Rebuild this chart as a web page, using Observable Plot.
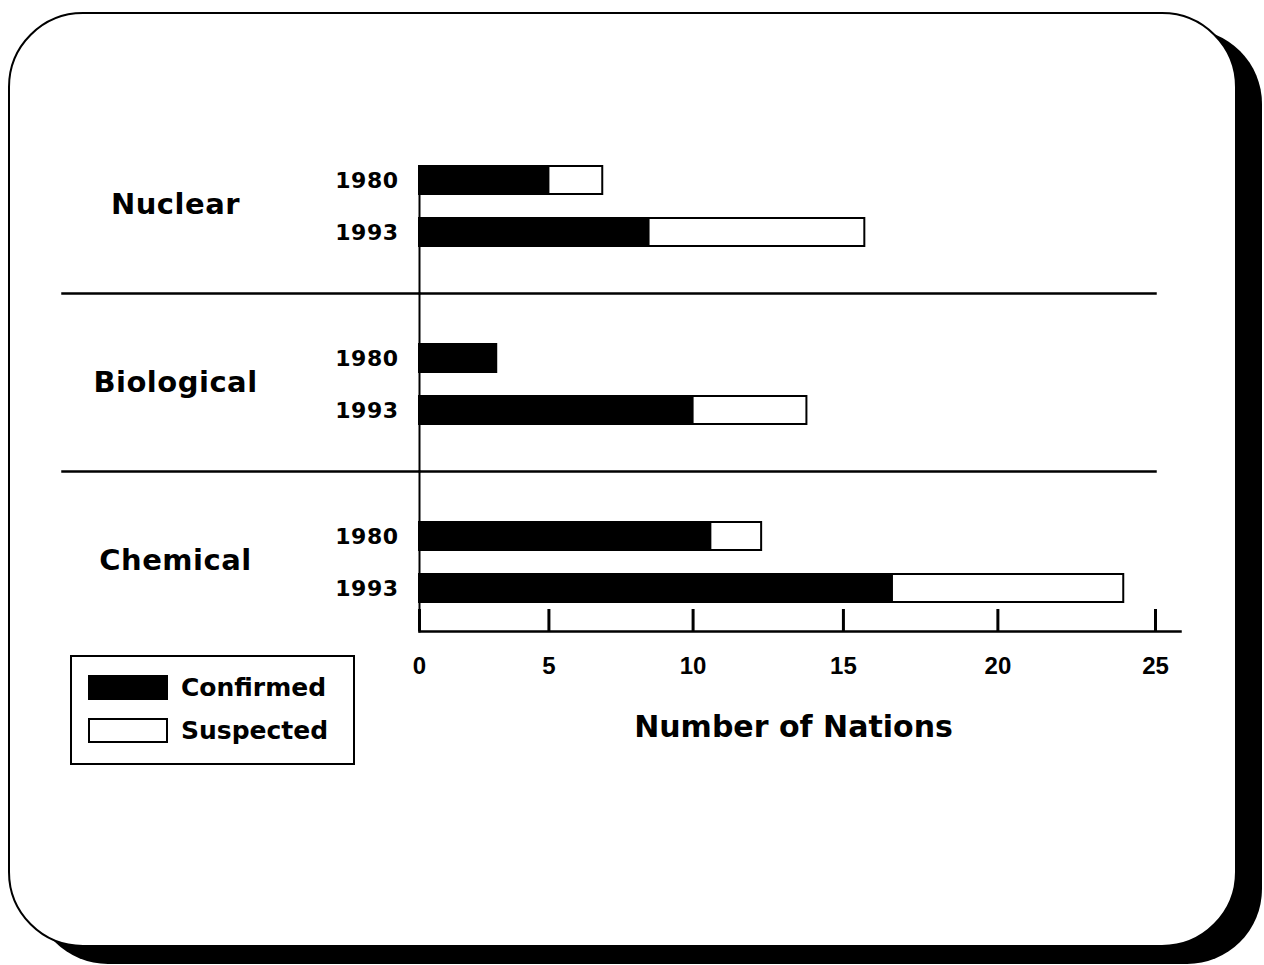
<!DOCTYPE html>
<html>
<head>
<meta charset="utf-8">
<script src="https://cdn.jsdelivr.net/npm/d3@7"></script>
<script src="https://cdn.jsdelivr.net/npm/@observablehq/plot@0.6"></script>
<style>
  html, body { margin: 0; padding: 0; background: #fff; overflow: hidden; }
  #page { position: relative; width: 1264px; height: 965px; }
  #card {
    position: absolute; left: 8px; top: 12px; width: 1229px; height: 935px;
    box-sizing: border-box; border: 2px solid #000; border-radius: 75px;
    background: #fff; box-shadow: 25px 17px 0 0 #000;
  }
  #chart { position: absolute; left: 0; top: 0; }
  .wmd [aria-label="fy-axis tick label"] { letter-spacing: 0.5px; }
  .wmd [aria-label="y-axis tick label"] { letter-spacing: 0.5px; }
  #legend {
    position: absolute; left: 70px; top: 655px; width: 285px; height: 110px;
    box-sizing: border-box; border: 2px solid #000; background: #fff;
    font-family: "DejaVu Sans", sans-serif; font-weight: bold; font-size: 25px;
  }
  .item { position: absolute; left: 16px; height: 25px; display: flex; align-items: center; }
  .sw { width: 80px; height: 25px; box-sizing: border-box; border: 2px solid #000; margin-right: 13px; }
</style>
</head>
<body>
<div id="page">
  <div id="card"></div>
  <div id="chart"></div>
  <div id="legend"></div>
</div>
<script>
// ---- data ----
const categories = ["Nuclear", "Biological", "Chemical"];
const years = ["1980", "1993"];
const types = ["Confirmed", "Suspected"];
const typeColors = ["#000000", "#ffffff"];
// order: Nuclear 1980, Nuclear 1993, Biological 1980, Biological 1993, Chemical 1980, Chemical 1993
const confirmed = [5.0, 8.5, 3.1, 10.0, 10.6, 16.6];
const suspected = [1.9, 7.2, 0, 3.8, 1.7, 7.4];
const xTicks = [0, 5, 10, 15, 20, 25];
const xLabel = "Number of Nations";

// ---- table ----
const rows = [];
categories.forEach((c, ci) => years.forEach((y, yi) => {
  const k = ci * years.length + yi;
  rows.push({category: c, year: y, type: types[0], value: confirmed[k]});
  if (suspected[k] > 0) rows.push({category: c, year: y, type: types[1], value: suspected[k]});
}));

const bold = "bold";
const chart = Plot.plot({
  className: "wmd",
  width: 1264,
  height: 965,
  marginLeft: 419,
  marginRight: 109,
  marginTop: 114,
  marginBottom: 315,
  style: {background: "transparent", fontFamily: "'DejaVu Sans', sans-serif", color: "#000"},
  x: {domain: [0, 25], type: "pow", exponent: 1.08},
  y: {domain: years, paddingInner: 0.46, paddingOuter: 0.94, align: 0.52},
  fy: {domain: categories, padding: 0},
  color: {domain: types, range: typeColors},
  marks: [
    // separators between groups
    Plot.frame({anchor: "top", fy: categories[1], insetLeft: -357, strokeWidth: 2.5}),
    Plot.frame({anchor: "top", fy: categories[2], insetLeft: -357, strokeWidth: 2.5}),
    // axis lines
    Plot.frame({anchor: "left", fy: categories[0], insetTop: 51, strokeWidth: 2}),
    Plot.frame({anchor: "left", fy: categories[1], strokeWidth: 2}),
    Plot.frame({anchor: "left", fy: categories[2], insetBottom: 18, strokeWidth: 2}),
    Plot.frame({anchor: "bottom", fy: categories[2], insetBottom: 18, insetRight: -25, strokeWidth: 2.5}),
    // bars
    Plot.barX(rows, {x: "value", y: "year", fy: "category", fill: "type", stroke: "#000", strokeWidth: 2, order: types}),
    // axes
    Plot.axisY({anchor: "left", tickSize: 0, tickPadding: 21, fontSize: 22, fontWeight: bold, label: null}),
    Plot.axisFy({anchor: "left", tickSize: 0, tickPadding: 244, textAnchor: "middle", fontSize: 29, fontWeight: bold, label: null}),
    Plot.axisX({anchor: "bottom", ticks: xTicks, tickSize: -22, tickPadding: 47, dy: -18, strokeWidth: 3,
      fontSize: 24, fontWeight: bold, fontFamily: "'Liberation Sans', Arial, sans-serif", label: null}),
    Plot.text([xLabel], {fy: () => categories[2], frameAnchor: "bottom", dy: 87, dx: 6, fontSize: 30, fontWeight: bold})
  ]
});
document.getElementById("chart").appendChild(chart);

// ---- legend ----
const legend = document.getElementById("legend");
types.forEach((t, i) => {
  const item = document.createElement("div");
  item.className = "item";
  item.style.top = (18 + i * 43) + "px";
  const sw = document.createElement("div");
  sw.className = "sw";
  sw.style.background = typeColors[i];
  const lab = document.createElement("span");
  lab.textContent = t;
  item.appendChild(sw);
  item.appendChild(lab);
  legend.appendChild(item);
});
</script>
</body>
</html>
